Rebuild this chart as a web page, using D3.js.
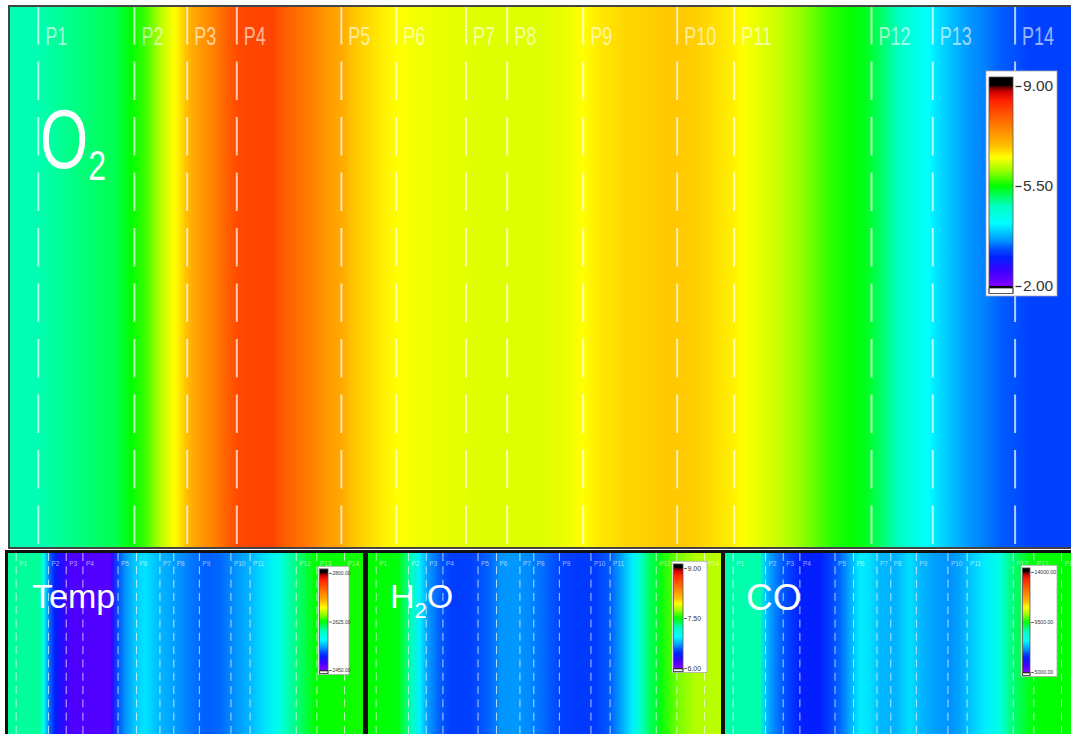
<!DOCTYPE html>
<html>
<head>
<meta charset="utf-8">
<script src="https://d3js.org/d3.v7.min.js"></script>
<style>
body { margin: 0; background: #fff; }
svg { display: block; }
</style>
</head>
<body>
<div id="chart"></div>
<script>
var W = 1071, H = 734;
var FONT = "'Liberation Sans', Arial, sans-serif";

// probe stations, position along the channel (0-100)
var probes = ["P1", "P2", "P3", "P4", "P5", "P6", "P7", "P8", "P9", "P10", "P11", "P12", "P13", "P14"];
var probePos = [2.3, 11.4, 16.4, 21.1, 31.0, 36.2, 42.8, 46.7, 53.9, 62.8, 68.2, 81.2, 87.0, 94.8];

// legend colormap, 0 = bottom of legend, 1 = top
var cmapStops = [0, 0.071, 0.143, 0.186, 0.229, 0.314, 0.4, 0.5, 0.571, 0.643, 0.7, 0.771, 0.857, 0.929, 0.971, 1];
var cmapColors = ["#8000ff", "#4000ff", "#0020ff", "#0050ff", "#0098ff", "#00ffff", "#00ffc0", "#00ff00",
                  "#90ff00", "#ffff00", "#ffc000", "#ff9000", "#ff5500", "#ff2000", "#d00000", "#400000"];

// O2 profile
var o2Pos = [-0.5, 2.3, 9.4, 10.9, 11.1, 12.4, 13.4, 14.3, 15.2, 15.8, 16.3, 17.2, 18.2, 19.2, 20.2, 21.2,
             22.2, 24.6, 25.1, 26.5, 28.0, 29.5, 31.0, 31.9, 33.4, 34.9, 36.4, 37.8, 40.7, 44.7, 49.8, 51.8,
             53.9, 55.7, 57.7, 59.7, 61.6, 63.1, 64.6, 66.5, 68.0, 68.9, 70.4, 72.4, 74.3, 75.8, 77.3, 79.3,
             80.7, 82.2, 83.7, 85.1, 86.6, 87.6, 89.0, 90.5, 92.0, 93.5, 94.9, 96.2, 100.5];
var o2Val = [4.85, 4.85, 5.2, 5.45, 5.5, 5.7, 6.0, 6.3, 6.5, 6.7, 6.9, 7.2, 7.4, 7.6, 7.9, 8.1,
             8.15, 8.15, 8.0, 7.8, 7.6, 7.3, 7.15, 6.9, 6.75, 6.6, 6.5, 6.45, 6.4, 6.35, 6.35, 6.4,
             6.5, 6.65, 6.75, 6.8, 6.85, 6.85, 6.8, 6.7, 6.6, 6.5, 6.4, 6.25, 6.05, 5.85, 5.65, 5.5,
             5.4, 5.1, 4.8, 4.5, 4.2, 4.0, 3.8, 3.6, 3.5, 3.35, 3.3, 3.2, 3.2];
var o2Range = [2, 9], o2Ticks = [9, 5.5, 2];

// temperature profile
var tempPos = [0, 9.0, 10.1, 11.8, 13.2, 15.2, 17.5, 28.7, 29.3, 31.0, 33.0, 35.8, 38.6, 42.8, 47.0, 51.3,
               55.5, 59.7, 63.9, 68.2, 72.4, 76.6, 80.8, 83.7, 86.5, 100];
var tempVal = [2597, 2597, 2565, 2520, 2500, 2485, 2470, 2467, 2481, 2515, 2529, 2545, 2552, 2539, 2532, 2524,
               2518, 2520, 2529, 2539, 2552, 2573, 2600, 2612, 2625, 2628];
var tempRange = [2450, 2800], tempTicks = [2800, 2625, 2450];

// H2O profile
var h2oPos = [0, 8.5, 10.4, 12.4, 14.6, 16.9, 20.3, 23.1, 28.7, 31.6, 34.4, 37.2, 41.4, 45.6, 49.9, 54.1,
              58.3, 63.9, 68.2, 71.0, 74.4, 76.6, 79.4, 82.3, 85.1, 87.9, 92.1, 100];
var h2oVal = [7.5, 7.48, 7.35, 7.2, 6.9, 6.7, 6.58, 6.51, 6.51, 6.56, 6.6, 6.68, 6.69, 6.66, 6.6, 6.52,
              6.5, 6.5, 6.58, 6.7, 6.9, 7.14, 7.35, 7.47, 7.6, 7.69, 7.78, 7.8];
var h2oRange = [6, 9], h2oTicks = [9, 7.5, 6];

// CO profile
var coPos = [0, 9.9, 11.3, 12.7, 15.5, 18.3, 21.1, 26.8, 29.6, 32.4, 35.2, 38.0, 40.8, 43.7, 47.9, 52.1,
             54.9, 59.2, 63.4, 66.2, 69.0, 73.2, 77.5, 80.3, 83.1, 85.9, 88.7, 100];
var coVal = [8690, 8690, 7430, 7115, 6800, 6530, 6260, 6260, 6530, 6800, 7200, 7700, 7610, 7300, 7250, 7610,
             7300, 7115, 7025, 7160, 7385, 7700, 8150, 8870, 9140, 9410, 9500, 9500];
var coRange = [5000, 14000], coTicks = [14000, 9500, 5000];

var svg = d3.select("#chart").append("svg")
  .attr("width", W).attr("height", H)
  .style("font-family", FONT);
var defs = svg.append("defs");

var cmap = d3.scaleLinear().domain(cmapStops).range(cmapColors).clamp(true);

var panels = [
  { id: "o2", pos: o2Pos, val: o2Val, range: o2Range, ticks: o2Ticks,
    left: 9, right: 1075, top: 6, bottom: 548, x0: 14, x1: 1070,
    border: { x: 9, y: 6, w: 1070, h: 542, c: "#444", sw: 2 },
    lw: 2, dash: "38.5,17", lblSize: 18, lblY: 45, lblDx: 7, sy: 1.45,
    legend: { boxX: 986, boxW: 71, barX: 989, barW: 24, yTop: 86, yBot: 286, s: 1, font: 15.5 } },
  { id: "temp", pos: tempPos, val: tempVal, range: tempRange, ticks: tempTicks,
    left: 8, right: 363, top: 553, bottom: 736, x0: 8, x1: 363,
    border: { x: 6.5, y: 551.5, w: 358, h: 190, c: "#111", sw: 3 },
    lw: 1, dash: "8,5.3", lblSize: 6.5, lblY: 566, lblDx: 3, sy: 1.2,
    legend: { boxX: 318, boxW: 31, barX: 319.5, barW: 8.5, yTop: 573, yBot: 670, s: 0.45, font: 5 } },
  { id: "h2o", pos: h2oPos, val: h2oVal, range: h2oRange, ticks: h2oTicks,
    left: 368, right: 721, top: 553, bottom: 736, x0: 368, x1: 723,
    border: { x: 366.5, y: 551.5, w: 356, h: 190, c: "#111", sw: 3 },
    lw: 1, dash: "8,5.3", lblSize: 6.5, lblY: 566, lblDx: 3, sy: 1.2,
    legend: { boxX: 672, boxW: 35, barX: 673.5, barW: 9.5, yTop: 568, yBot: 668, s: 0.45, font: 7 } },
  { id: "co", pos: coPos, val: coVal, range: coRange, ticks: coTicks,
    left: 725, right: 1080, top: 553, bottom: 736, x0: 725, x1: 1080,
    border: { x: 723.5, y: 551.5, w: 360, h: 190, c: "#111", sw: 3 },
    lw: 1, dash: "8,5.3", lblSize: 6.5, lblY: 566, lblDx: 3, sy: 1.2,
    legend: { boxX: 1021, boxW: 36, barX: 1022.5, barW: 7.5, yTop: 572, yBot: 672, s: 0.45, font: 5.2 } }
];

function drawLegend(g, p) {
  var lg = p.legend, s = lg.s;
  var y = d3.scaleLinear().domain(p.range).range([lg.yBot, lg.yTop]);

  g.append("rect")
    .attr("x", lg.boxX).attr("y", lg.yTop - 15 * s)
    .attr("width", lg.boxW).attr("height", lg.yBot - lg.yTop + 25 * s)
    .attr("fill", "#fff").attr("stroke", "#aaa").attr("stroke-width", 0.8);

  var grad = defs.append("linearGradient").attr("id", p.id + "-bar")
    .attr("gradientUnits", "userSpaceOnUse")
    .attr("x1", 0).attr("x2", 0)
    .attr("y1", y(p.range[0])).attr("y2", y(p.range[1]));
  grad.selectAll("stop").data(cmapStops).enter().append("stop")
    .attr("offset", function(d) { return d; })
    .attr("stop-color", function(d, i) { return cmapColors[i]; });

  g.append("rect") // over-range cap
    .attr("x", lg.barX).attr("y", lg.yTop - 9 * s)
    .attr("width", lg.barW).attr("height", 9 * s).attr("fill", "#000");
  g.append("rect")
    .attr("x", lg.barX).attr("y", lg.yTop)
    .attr("width", lg.barW).attr("height", lg.yBot - lg.yTop)
    .attr("fill", "url(#" + p.id + "-bar)");
  g.append("rect")
    .attr("x", lg.barX).attr("y", lg.yBot)
    .attr("width", lg.barW).attr("height", 2 * s).attr("fill", "#000");
  g.append("rect") // under-range box
    .attr("x", lg.barX).attr("y", lg.yBot + 2 * s)
    .attr("width", lg.barW).attr("height", 5.5 * s)
    .attr("fill", "#fff").attr("stroke", "#222").attr("stroke-width", 0.8);
  g.append("rect")
    .attr("x", lg.barX).attr("y", lg.yTop - 9 * s)
    .attr("width", lg.barW).attr("height", lg.yBot - lg.yTop + 16.5 * s)
    .attr("fill", "none").attr("stroke", "#555").attr("stroke-width", 0.8);

  var ax = g.append("g")
    .attr("transform", "translate(" + (lg.barX + lg.barW + 2.5 * s) + ",0)")
    .call(d3.axisRight(y).tickValues(p.ticks).tickSize(6 * s).tickPadding(1.5 * s)
      .tickFormat(d3.format(".2f")));
  ax.select(".domain").remove();
  ax.attr("font-family", FONT).attr("font-size", lg.font);
  ax.selectAll(".tick line").attr("stroke", "#333").attr("stroke-width", Math.max(0.8, 1.3 * s));
  ax.selectAll(".tick text").attr("fill", "#333");
}

function drawPanel(p) {
  var x = d3.scaleLinear().domain([0, 100]).range([p.x0, p.x1]);
  var t = d3.scaleLinear().domain(p.range).range([0, 1]);
  var lo = d3.min(p.pos), hi = d3.max(p.pos);

  var grad = defs.append("linearGradient").attr("id", p.id + "-fill")
    .attr("gradientUnits", "userSpaceOnUse")
    .attr("x1", x(lo)).attr("x2", x(hi)).attr("y1", 0).attr("y2", 0);
  grad.selectAll("stop").data(p.pos).enter().append("stop")
    .attr("offset", function(d) { return (d - lo) / (hi - lo); })
    .attr("stop-color", function(d, i) { return cmap(t(p.val[i])); });

  var g = svg.append("g");
  g.append("rect")
    .attr("x", p.left).attr("y", p.top)
    .attr("width", p.right - p.left).attr("height", p.bottom - p.top)
    .attr("fill", "url(#" + p.id + "-fill)");

  g.selectAll(".probe").data(probePos).enter().append("line")
    .attr("class", "probe")
    .attr("x1", function(d) { return x(d); }).attr("x2", function(d) { return x(d); })
    .attr("y1", p.top).attr("y2", p.bottom)
    .attr("stroke", "rgba(255,255,255,0.7)")
    .attr("stroke-width", p.lw)
    .attr("stroke-dasharray", p.dash);

  g.selectAll(".plabel").data(probes).enter().append("text")
    .attr("class", "plabel")
    .attr("transform", function(d, i) {
      return "translate(" + (x(probePos[i]) + p.lblDx) + "," + p.lblY + ") scale(1," + p.sy + ")";
    })
    .attr("font-size", p.lblSize)
    .attr("fill", "rgba(255,255,255,0.62)")
    .text(function(d) { return d; });

  g.append("rect")
    .attr("x", p.border.x).attr("y", p.border.y)
    .attr("width", p.border.w).attr("height", p.border.h)
    .attr("fill", "none").attr("stroke", p.border.c).attr("stroke-width", p.border.sw);

  drawLegend(g, p);
}

panels.forEach(drawPanel);

// species names
var o2Label = svg.append("text")
  .attr("transform", "translate(40,168) scale(1,1.35)")
  .attr("fill", "#fff").attr("font-size", 62);
o2Label.append("tspan").text("O");
o2Label.append("tspan").attr("font-size", 32).attr("dy", 9).text("2");

svg.append("text")
  .attr("x", 32).attr("y", 608)
  .attr("fill", "#fff").attr("font-size", 34)
  .text("Temp");

var h2oLabel = svg.append("text")
  .attr("x", 390).attr("y", 608)
  .attr("fill", "#fff").attr("font-size", 34);
h2oLabel.append("tspan").text("H");
h2oLabel.append("tspan").attr("font-size", 22).attr("dy", 10).text("2");
h2oLabel.append("tspan").attr("dy", -10).text("O");

svg.append("text")
  .attr("x", 746).attr("y", 610)
  .attr("fill", "#fff").attr("font-size", 37)
  .text("CO");
</script>
</body>
</html>
